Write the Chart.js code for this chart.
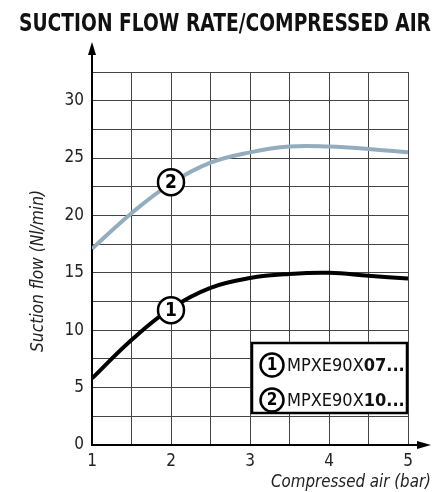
<!DOCTYPE html>
<html>
<head>
<meta charset="utf-8">
<script src="https://cdn.jsdelivr.net/npm/chart.js@4"></script>
<style>
html,body{margin:0;padding:0;background:#fff;}
#wrap{position:relative;width:447px;height:492px;}
canvas{display:block;}
</style>
</head>
<body>
<div id="wrap"><canvas id="c" width="447" height="492"></canvas></div>
<script>
const chartTitle = "SUCTION FLOW RATE/COMPRESSED AIR";
const xAxisTitle = "Compressed air (bar)";
const yAxisTitle = "Suction flow (Nl/min)";
const pressure = [1, 1.5, 2, 2.5, 3, 3.5, 4, 4.5, 5];
const flow07 = [5.8, 9.15, 11.9, 13.7, 14.55, 14.9, 15.0, 14.75, 14.5];
const flow10 = [17.1, 20.2, 22.8, 24.6, 25.5, 26.0, 26.0, 25.8, 25.5];
const seriesNames = ["MPXE90X", "MPXE90X"];
const seriesSuffix = ["07...", "10..."];
const seriesNumbers = ["1", "2"];
const markerPoints = [[2, 11.75], [2, 22.9]];
const yTickLabels = [0, 5, 10, 15, 20, 25, 30];
const xTickLabels = [1, 2, 3, 4, 5];

const FONT = '"Liberation Sans Narrow","DejaVu Sans Condensed","Roboto",sans-serif';

const decor = {
  id: 'decor',
  afterDraw(chart) {
    const ctx = chart.ctx;
    const xs = chart.scales.x, ys = chart.scales.y;
    const ca = chart.chartArea;
    ctx.save();
    // title
    ctx.fillStyle = '#111';
    ctx.textAlign = 'center';
    ctx.textBaseline = 'middle';
    ctx.font = 'bold 25px ' + FONT;
    let w = ctx.measureText(chartTitle).width;
    ctx.translate(225, 24);
    ctx.scale(412 / w, 1);
    ctx.fillText(chartTitle, 0, 0);
    ctx.setTransform(1,0,0,1,0,0);
    // arrows
    ctx.fillStyle = '#000';
    ctx.strokeStyle = '#000';
    ctx.lineWidth = 2;
    const x0 = xs.getPixelForValue(1);
    const y0 = ys.getPixelForValue(0);
    ctx.beginPath(); ctx.moveTo(x0, ca.top); ctx.lineTo(x0, 52); ctx.stroke();
    ctx.beginPath(); ctx.moveTo(x0, 42); ctx.lineTo(x0 - 4, 55); ctx.lineTo(x0 + 4, 55); ctx.closePath(); ctx.fill();
    ctx.beginPath(); ctx.moveTo(ca.right, y0); ctx.lineTo(420, y0); ctx.stroke();
    ctx.beginPath(); ctx.moveTo(431, y0); ctx.lineTo(417, y0 - 4); ctx.lineTo(417, y0 + 4); ctx.closePath(); ctx.fill();
    // axis titles
    ctx.fillStyle = '#222';
    ctx.font = 'italic 17px ' + FONT;
    ctx.textAlign = 'right';
    ctx.textBaseline = 'alphabetic';
    const xw = ctx.measureText(xAxisTitle).width;
    ctx.save();
    ctx.translate(431, 487);
    ctx.scale(160 / xw, 1);
    ctx.fillText(xAxisTitle, 0, 0);
    ctx.restore();
    ctx.save();
    const yw = ctx.measureText(yAxisTitle).width;
    ctx.translate(43, 271);
    ctx.rotate(-Math.PI / 2);
    ctx.scale(162 / yw, 1);
    ctx.textAlign = 'center';
    ctx.fillText(yAxisTitle, 0, 0);
    ctx.restore();
    // circle markers
    function badge(cx, cy, r, label) {
      ctx.beginPath();
      ctx.arc(cx, cy, r, 0, Math.PI * 2);
      ctx.fillStyle = '#fff'; ctx.fill();
      ctx.lineWidth = 2.5; ctx.strokeStyle = '#000'; ctx.stroke();
      ctx.fillStyle = '#000';
      ctx.font = 'bold ' + Math.round(r * 1.45) + 'px ' + FONT;
      ctx.textAlign = 'center'; ctx.textBaseline = 'middle';
      ctx.fillText(label, cx, cy + 1);
    }
    markerPoints.forEach((p, i) => {
      badge(xs.getPixelForValue(p[0]), ys.getPixelForValue(p[1]), 13, seriesNumbers[i]);
    });
    // legend box
    const bx = 252, by = 343, bw = 155, bh = 70;
    ctx.fillStyle = '#fff';
    ctx.fillRect(bx, by, bw, bh);
    ctx.lineWidth = 2.5; ctx.strokeStyle = '#000';
    ctx.strokeRect(bx, by, bw, bh);
    [365, 400].forEach((yy, i) => {
      badge(272, yy, 11.5, seriesNumbers[i]);
      ctx.textAlign = 'left'; ctx.textBaseline = 'middle';
      ctx.font = '18px ' + FONT;
      ctx.fillStyle = '#111';
      ctx.fillText(seriesNames[i], 287, yy + 1);
      const nw = ctx.measureText(seriesNames[i]).width;
      ctx.font = 'bold 18px ' + FONT;
      ctx.fillText(seriesSuffix[i], 287 + nw, yy + 1);
    });
    ctx.restore();
  }
};

new Chart(document.getElementById('c'), {
  type: 'line',
  data: {
    datasets: [
      { data: pressure.map((x, i) => ({x, y: flow07[i]})), borderColor: '#000', borderWidth: 4, pointRadius: 0, tension: 0.4, fill: false },
      { data: pressure.map((x, i) => ({x, y: flow10[i]})), borderColor: '#93adbf', borderWidth: 4, pointRadius: 0, tension: 0.4, fill: false }
    ]
  },
  options: {
    responsive: false,
    animation: false,
    events: [],
    layout: { padding: { left: 0, right: 39, top: 72, bottom: 0 } },
    plugins: { legend: { display: false }, title: { display: false }, tooltip: { enabled: false } },
    scales: {
      x: {
        type: 'linear', min: 1, max: 5,
        afterFit(s) { s.height = 47; },
        border: { color: '#000', width: 2 },
        grid: { color: '#444', lineWidth: 1, drawTicks: false },
        ticks: {
          stepSize: 0.5, padding: 6, color: '#222',
          font: { family: FONT, size: 17 },
          callback: v => xTickLabels.includes(v) ? String(v) : ''
        }
      },
      y: {
        type: 'linear', min: 0, max: 32.5,
        afterFit(s) { s.width = 92; },
        afterBuildTicks(s) { s.ticks = []; for (let v = 0; v <= 32.5; v += 2.5) s.ticks.push({value: v}); },
        border: { color: '#000', width: 2 },
        grid: { color: '#444', lineWidth: 1, drawTicks: false },
        ticks: {
          padding: 8, color: '#222',
          font: { family: FONT, size: 17 },
          callback: v => yTickLabels.includes(v) ? String(v) : ''
        }
      }
    }
  },
  plugins: [decor]
});
</script>
</body>
</html>
